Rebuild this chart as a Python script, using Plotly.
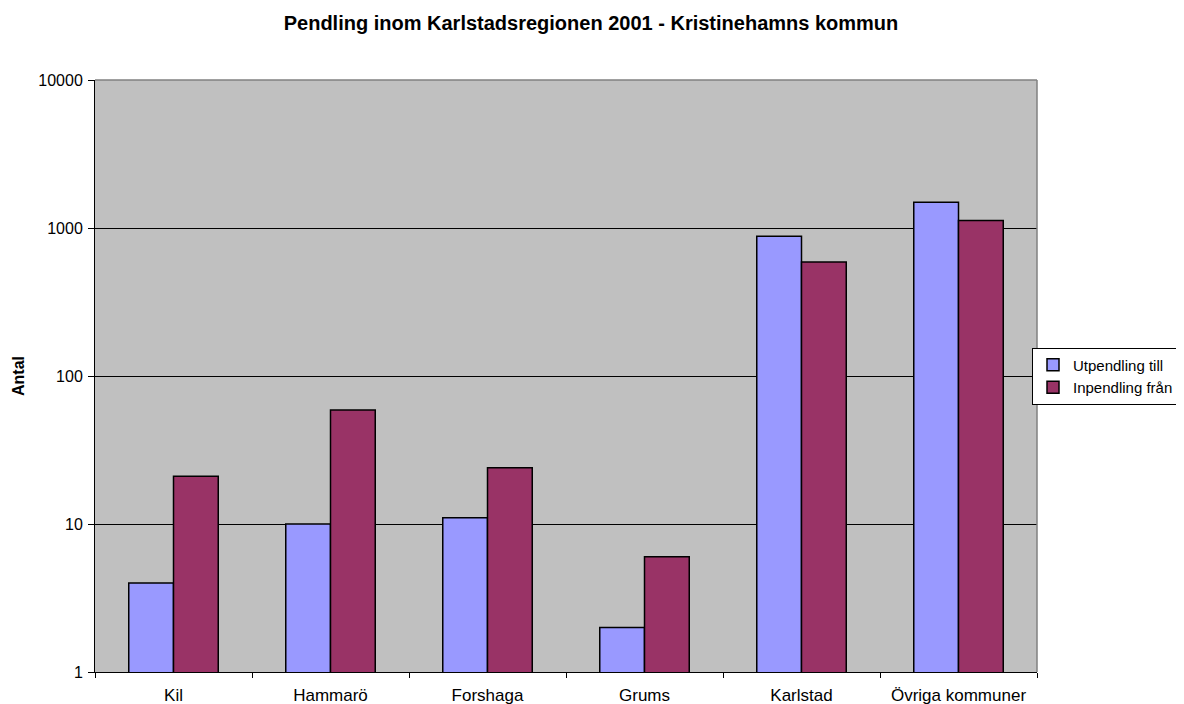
import plotly.graph_objects as go

kommuner = ["Kil", "Hammarö", "Forshaga", "Grums", "Karlstad", "Övriga kommuner"]
utpendling = [4, 10, 11, 2, 880, 1490]
inpendling = [21, 59, 24, 6, 590, 1125]

y_ticks = [1, 10, 100, 1000, 10000]
y_ticktext = ["1", "10", "100", "1000", "10000"]

# the page body has an 8px margin, so the figure is drawn 8px in from the top-left
W, H = 1176, 696

fig = go.Figure()
fig.add_trace(go.Bar(
    x=kommuner, y=utpendling, name="Utpendling till",
    marker=dict(color="#9999FF", line=dict(color="black", width=1.5)),
))
fig.add_trace(go.Bar(
    x=kommuner, y=inpendling, name="Inpendling från",
    marker=dict(color="#993366", line=dict(color="black", width=1.5)),
))

fig.update_layout(
    width=W, height=H,
    margin=dict(l=87, r=147, t=72, b=32, autoexpand=False),
    paper_bgcolor="white",
    plot_bgcolor="#C0C0C0",
    font=dict(family="Arial, Liberation Sans", size=16, color="black"),
    barmode="group",
    bargap=0.43,
    bargroupgap=0,
    title=dict(
        text="<b>Pendling inom Karlstadsregionen 2001 - Kristinehamns kommun</b>",
        x=(591 - 8) / W, xref="container", y=1 - 15 / H, yref="container",
        xanchor="center", yanchor="middle",
        font=dict(size=20),
    ),
    legend=dict(
        x=(1179 - 95) / 942, y=0.5, xanchor="right", yanchor="middle",
        bordercolor="black", borderwidth=1, bgcolor="white",
        font=dict(size=15), tracegroupgap=0, itemwidth=30,
    ),
    showlegend=True,
)

fig.update_xaxes(
    showline=True, linecolor="black", linewidth=1,
    ticks="outside", tickson="boundaries", ticklen=5, tickcolor="black",
    showgrid=False, tickfont=dict(size=17), automargin=False,
    ticklabelstandoff=8,
)
fig.update_yaxes(
    type="log", range=[0, 4],
    tickvals=y_ticks, ticktext=y_ticktext,
    showline=True, linecolor="black", linewidth=1,
    ticks="outside", ticklen=6, tickcolor="black",
    showgrid=True, gridcolor="black", gridwidth=1,
    tickfont=dict(size=16), zeroline=False, automargin=False,
    ticklabelstandoff=2,
)

# grey frame on top and right of plot area
fig.add_shape(type="line", xref="paper", yref="paper", x0=0, x1=1, y0=1, y1=1,
              line=dict(color="#808080", width=1.5))
fig.add_shape(type="line", xref="paper", yref="paper", x0=1, x1=1, y0=0, y1=1,
              line=dict(color="#808080", width=1.5))

fig.add_annotation(
    text="<b>Antal</b>", textangle=-90, showarrow=False,
    xref="paper", yref="paper", x=(18 - 95) / 942, y=0.5,
    xanchor="center", yanchor="middle", font=dict(size=16),
)

fig.write_html("out.html")
